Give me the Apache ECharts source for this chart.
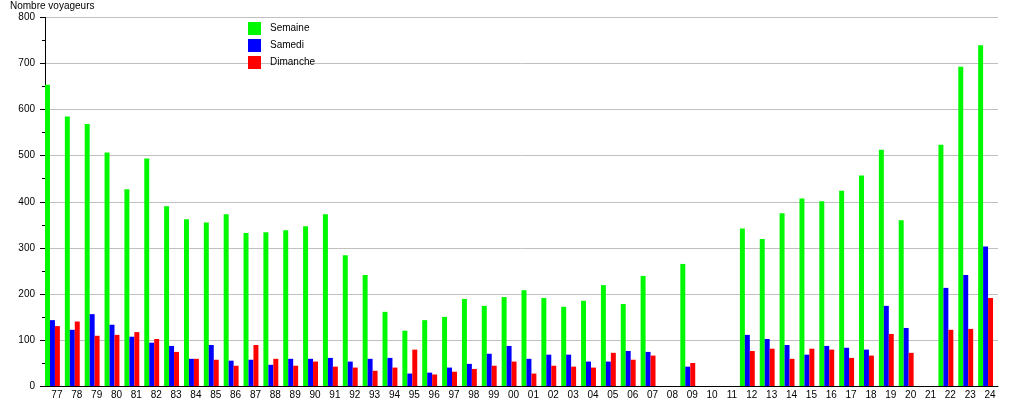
<!DOCTYPE html>
<html>
<head>
<meta charset="utf-8">
<script src="https://cdn.jsdelivr.net/npm/echarts@6/dist/echarts.min.js"></script>
<style>
html,body{margin:0;padding:0;background:#fff;}
#chart{width:1015px;height:400px;}
</style>
</head>
<body>
<div id="chart"></div>
<script>
var categories = ['77','78','79','80','81','82','83','84','85','86','87','88','89','90','91','92','93','94','95','96','97','98','99','00','01','02','03','04','05','06','07','08','09','10','11','12','13','14','15','16','17','18','19','20','21','22','23','24'];
var semaine = [654,585,569,507,427,494,390,362,355,373,332,334,338,347,373,284,241,161,120,143,150,189,174,193,208,191,172,185,219,178,239,null,265,null,null,342,319,375,407,401,424,457,513,360,null,524,693,740];
var samedi = [143,122,156,133,107,94,87,59,89,55,57,46,59,59,61,53,59,61,27,29,40,48,70,87,59,68,68,53,53,76,74,null,42,null,null,111,102,89,68,87,83,79,174,126,null,213,241,303];
var dimanche = [130,140,109,111,117,102,74,59,57,44,89,59,44,53,42,40,33,40,79,25,31,37,44,53,27,44,42,40,72,57,66,null,50,null,null,76,81,59,81,79,61,66,113,72,null,122,124,191];
var yTicks = [0,100,200,300,400,500,600,700,800];

var chart = echarts.init(document.getElementById('chart'), null, {renderer:'canvas'});
var font = 'Liberation Sans, Arial, sans-serif';
chart.setOption({
  animation: false,
  backgroundColor: '#ffffff',
  title: {
    text: 'Nombre voyageurs', left: 10, top: 1, padding: 0,
    textStyle: {fontSize: 10, fontWeight: 'normal', color: '#000', fontFamily: font}
  },
  legend: {
    data: ['Semaine','Samedi','Dimanche'],
    orient: 'vertical', left: 248, top: 22, padding: 0,
    itemWidth: 13, itemHeight: 13, itemGap: 4, icon: 'rect',
    textStyle: {fontSize: 10, color: '#000', fontFamily: font, padding: [6,0,0,4]}
  },
  grid: {left: 45, right: 17, top: 17.5, bottom: 13, containLabel: false},
  xAxis: {
    type: 'category', data: categories, boundaryGap: true,
    axisLine: {lineStyle: {color: '#000', width: 1}},
    axisTick: {show: false},
    axisLabel: {fontSize: 10, color: '#000', fontFamily: font, margin: 4, interval: 0, padding: [0,0,0,4]},
    splitLine: {show: false}
  },
  yAxis: {
    type: 'value', min: yTicks[0], max: yTicks[yTicks.length-1], interval: 100,
    axisLine: {show: true, lineStyle: {color: '#000', width: 1}},
    axisTick: {show: true, length: 5, lineStyle: {color: '#000'}},
    minorTick: {show: true, splitNumber: 2, length: 3, lineStyle: {color: '#000'}},
    axisLabel: {fontSize: 10, color: '#000', fontFamily: font, margin: 10},
    splitLine: {show: true, lineStyle: {color: '#c0c0c0', width: 1}}
  },
  series: [
    {name: 'Semaine', type: 'bar', data: semaine, barGap: '0%', barCategoryGap: '0%', itemStyle: {color: '#00f800'}},
    {name: 'Samedi', type: 'bar', data: samedi, barGap: '0%', barCategoryGap: '0%', itemStyle: {color: '#0000ff'}},
    {name: 'Dimanche', type: 'bar', data: dimanche, barGap: '0%', barCategoryGap: '0%', itemStyle: {color: '#ff0000'}},
    {name: 'spacer', type: 'bar', data: [], barGap: '0%', barCategoryGap: '0%', silent: true}
  ]
});
</script>
</body>
</html>
